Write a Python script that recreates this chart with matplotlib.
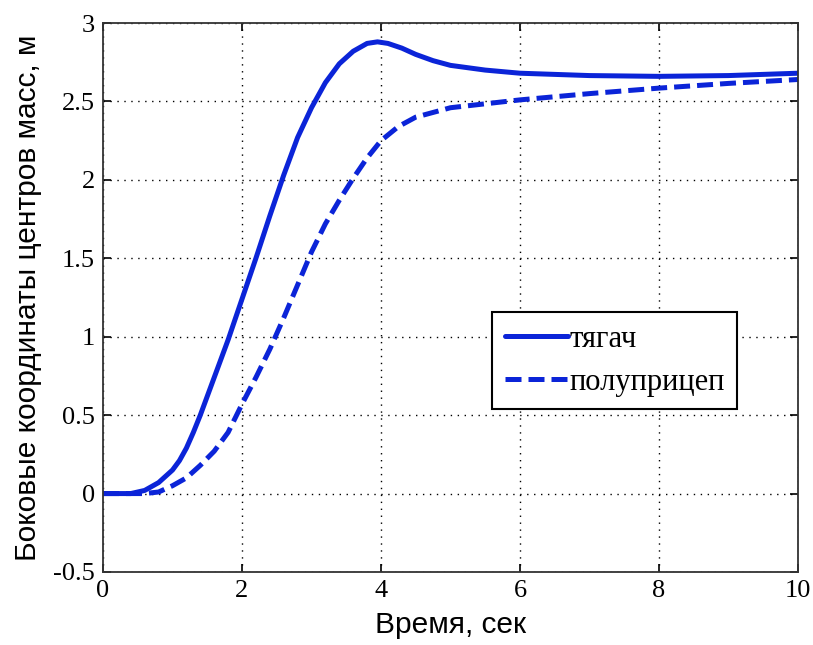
import matplotlib
matplotlib.use("Agg")
import matplotlib.pyplot as plt

t_tractor = [0, 0.4, 0.6, 0.8, 1.0, 1.1, 1.2, 1.3, 1.4, 1.5, 1.6, 1.8, 2.0, 2.2, 2.4, 2.6, 2.8,
             3.0, 3.2, 3.4, 3.6, 3.8, 3.95, 4.1, 4.3, 4.5, 4.75, 5.0, 5.5, 6, 7, 8, 9, 10]
y_tractor = [0, 0, 0.02, 0.07, 0.15, 0.21, 0.29, 0.39, 0.50, 0.62, 0.74, 0.98, 1.24, 1.5, 1.77,
             2.03, 2.27, 2.46, 2.62, 2.74, 2.82, 2.87, 2.88, 2.87, 2.84, 2.80, 2.76, 2.73, 2.70,
             2.68, 2.665, 2.66, 2.665, 2.68]

t_trailer = [0, 0.6, 0.8, 1.0, 1.2, 1.4, 1.6, 1.8, 2.0, 2.2, 2.4, 2.6, 2.8, 3.0, 3.2, 3.4, 3.6,
             3.8, 4.0, 4.25, 4.5, 5, 6, 7, 8, 9, 10]
y_trailer = [0, 0, 0.01, 0.05, 0.1, 0.18, 0.27, 0.39, 0.57, 0.74, 0.92, 1.12, 1.33, 1.54, 1.72,
             1.87, 2.01, 2.14, 2.25, 2.34, 2.40, 2.46, 2.51, 2.55, 2.585, 2.615, 2.64]

labels = ["тягач", "полуприцеп"]
x_ticks = [0, 2, 4, 6, 8, 10]
y_ticks = [-0.5, 0, 0.5, 1, 1.5, 2, 2.5, 3]
y_tick_labels = ["-0.5", "0", "0.5", "1", "1.5", "2", "2.5", "3"]

color = "#0b24d8"

fig = plt.figure(figsize=(8.13, 6.45), dpi=100)
ax = fig.add_axes([0.1267, 0.1132, 0.8548, 0.8511])

ax.plot(t_tractor, y_tractor, color=color, lw=3.6, solid_capstyle="round",
        solid_joinstyle="round", label=labels[0])
ax.plot(t_trailer, y_trailer, color=color, lw=3.6, ls=(0, (3.2, 1.4)), label=labels[1])

ax.set_xlim(0, 10)
ax.set_ylim(-0.5, 3)
ax.set_xticks(x_ticks)
ax.set_yticks(y_ticks)
ax.set_yticklabels(y_tick_labels)

serif = "Liberation Serif"
for lab in ax.get_xticklabels() + ax.get_yticklabels():
    lab.set_fontfamily(serif)
    lab.set_fontsize(19)

ax.tick_params(direction="in", top=True, right=True, length=6, width=1.2, pad=6)
ax.grid(True, color="black", ls=(0, (1, 4)), lw=1.0)
for s in ax.spines.values():
    s.set_color("#333333")
    s.set_linewidth(1.3)

ax.set_xlabel("Время, сек", fontfamily="Liberation Sans", fontsize=21.5, labelpad=6)
ax.set_ylabel("Боковые координаты центров масс, м", fontfamily="Liberation Sans",
              fontsize=21.5, labelpad=8)

leg = ax.legend(loc="upper left", bbox_to_anchor=(0.56, 0.4736),
                prop={"family": serif, "size": 22},
                handlelength=2.05, handletextpad=0.05, borderpad=0.42, borderaxespad=0,
                labelspacing=0.45, frameon=True, fancybox=False, edgecolor="black",
                framealpha=1)
leg.get_frame().set_linewidth(1.5)

fig.savefig("out.png", dpi=100)
